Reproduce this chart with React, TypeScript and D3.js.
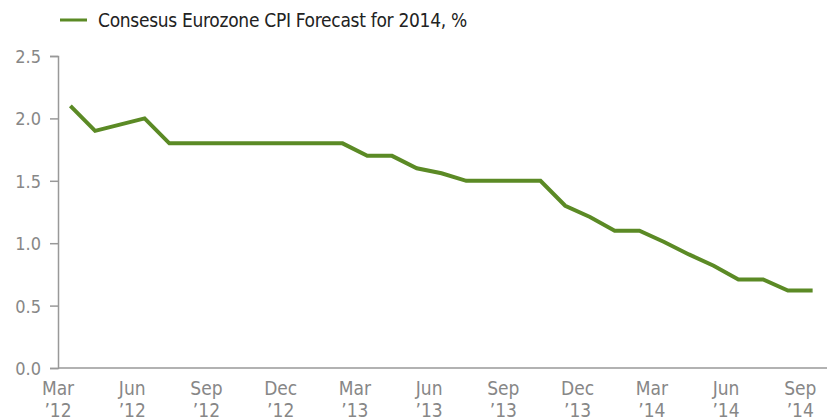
import { useEffect, useRef } from "react";
import * as d3 from "d3";

const months = [
  "Mar '12", "Apr '12", "May '12", "Jun '12", "Jul '12", "Aug '12", "Sep '12", "Oct '12", "Nov '12", "Dec '12",
  "Jan '13", "Feb '13", "Mar '13", "Apr '13", "May '13", "Jun '13", "Jul '13", "Aug '13", "Sep '13", "Oct '13", "Nov '13", "Dec '13",
  "Jan '14", "Feb '14", "Mar '14", "Apr '14", "May '14", "Jun '14", "Jul '14", "Aug '14", "Sep '14",
];

const cpiForecast = [
  2.1, 1.9, 1.95, 2.0, 1.8, 1.8, 1.8, 1.8, 1.8, 1.8,
  1.8, 1.8, 1.7, 1.7, 1.6, 1.56, 1.5, 1.5, 1.5, 1.5, 1.3, 1.21,
  1.1, 1.1, 1.01, 0.91, 0.82, 0.71, 0.71, 0.62, 0.62,
];

const labelMonths = ["Mar", "Jun", "Sep", "Dec"];
const yTicks = [0, 0.5, 1.0, 1.5, 2.0, 2.5];
const seriesName = "Consesus Eurozone CPI Forecast for 2014, %";

export default function App() {
  const ref = useRef<SVGSVGElement>(null);

  useEffect(() => {
    const width = 827;
    const height = 420;
    const margin = { top: 56, right: 2, bottom: 52, left: 58 };
    const font = "'DejaVu Sans Condensed', 'Liberation Sans Narrow', Roboto, sans-serif";
    const green = "#5b8a25";
    const grey = "#878787";

    const svg = d3.select(ref.current).attr("viewBox", `0 0 ${width} ${height}`);
    svg.selectAll("*").remove();

    const x = d3
      .scaleBand()
      .domain(months)
      .range([margin.left, width - margin.right]);

    const y = d3
      .scaleLinear()
      .domain([0, 2.5])
      .range([height - margin.bottom, margin.top]);

    // y axis
    const yAxis = svg
      .append("g")
      .attr("transform", `translate(${margin.left},0)`)
      .call(d3.axisLeft(y).tickValues(yTicks).tickFormat(d3.format(".1f")).tickSize(8).tickPadding(9));
    yAxis.select(".domain").attr("stroke", "#999").attr("stroke-width", 1.5);
    yAxis.selectAll(".tick line").attr("stroke", "#999").attr("stroke-width", 1.5);
    yAxis
      .selectAll(".tick text")
      .attr("fill", grey)
      .attr("font-family", font)
      .attr("font-size", 18)
      .attr("dy", "0.36em");

    // x axis
    svg
      .append("line")
      .attr("x1", margin.left)
      .attr("x2", width)
      .attr("y1", y(0))
      .attr("y2", y(0))
      .attr("stroke", "#999")
      .attr("stroke-width", 1.5);

    const labelled = months.filter(m => labelMonths.includes(m.slice(0, 3)));
    const xl = svg
      .append("g")
      .selectAll("text")
      .data(labelled)
      .join("text")
      .attr("x", d => x(d)!)
      .attr("y", y(0) + 27)
      .attr("text-anchor", "middle")
      .attr("fill", grey)
      .attr("font-family", font)
      .attr("font-size", 19);
    xl.append("tspan").attr("x", d => x(d)!).text(d => d.slice(0, 3));
    xl.append("tspan").attr("x", d => x(d)!).attr("dy", 22).text(d => "\u2019" + d.slice(5));

    // line
    const line = d3
      .line<number>()
      .x((_, i) => x(months[i])! + x.bandwidth() / 2)
      .y(d => y(d));

    svg
      .append("path")
      .datum(cpiForecast)
      .attr("fill", "none")
      .attr("stroke", green)
      .attr("stroke-width", 4)
      .attr("stroke-linejoin", "miter")
      .attr("d", line);

    // legend
    const lg = svg.append("g").attr("transform", "translate(60,20)");
    lg.append("line").attr("x1", 0).attr("x2", 27).attr("stroke", green).attr("stroke-width", 3);
    lg.append("text")
      .attr("x", 38)
      .attr("dy", "0.35em")
      .attr("fill", "#222")
      .attr("font-family", font)
      .attr("font-size", 19)
      .attr("letter-spacing", -0.3)
      .text(seriesName);
  }, []);

  return (
    <svg
      ref={ref}
      width={827}
      height={420}
      style={{ position: "absolute", left: 0, top: 0, background: "#fff" }}
    />
  );
}
